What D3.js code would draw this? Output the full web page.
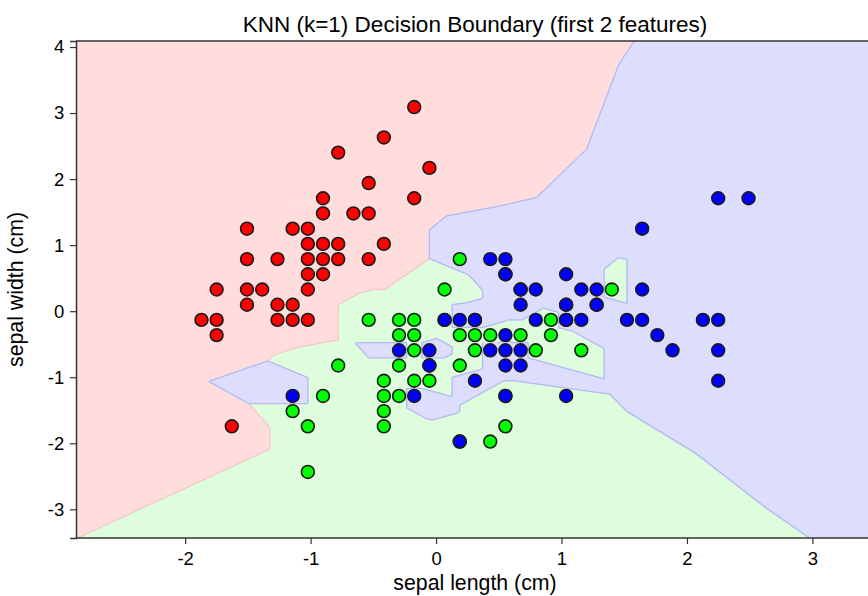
<!DOCTYPE html>
<html>
<head>
<meta charset="utf-8">
<script src="https://cdn.jsdelivr.net/npm/d3@7"></script>
<style>
  html, body { margin: 0; padding: 0; background: #ffffff; }
  svg text { font-family: "Liberation Sans", Arial, sans-serif; fill: #000; }
</style>
</head>
<body>
<svg id="chart" width="868" height="596"></svg>
<script>
// Iris, first two features (standardized sepal length, sepal width).
// "Fit" points train the 1-nearest-neighbour classifier, "Held" points are only plotted.
const classNames = ["setosa", "versicolor", "virginica"];

const setosaFit = [
  [-0.901, 1.019], [-1.143, -0.132], [-1.386, 0.328], [-1.507, 0.098], [-1.022, 1.249],
  [-0.537, 1.940], [-1.507, 0.789], [-1.022, 0.789], [-1.749, -0.362], [-1.143, 0.098],
  [-1.264, 0.789], [-1.264, -0.132], [-1.870, -0.132], [-0.053, 2.170],
  [-0.901, 1.710], [-0.537, 0.789], [-0.901, 1.480], [-1.507, 1.249], [-0.901, 0.559],
  [-1.022, -0.132], [-0.780, 1.019], [-0.780, 0.789], [-1.264, 0.098], [-0.780, 2.401],
  [-0.416, 2.631], [-1.022, 0.328], [-1.143, 1.249], [-1.749, -0.132], [-0.901, 0.789],
  [-1.022, 1.019], [-1.628, -1.743], [-1.749, 0.328], [-1.507, 0.328], [-0.659, 1.480],
  [-1.022, 0.559]
];
const setosaHeld = [
  [-0.537, 1.480], [-0.174, 3.091], [-0.174, 1.710], [-0.416, 1.019]
];

const versicolorFit = [
  [1.401, 0.328], [-0.416, -1.743], [0.795, -0.592], [-0.174, -0.592], [-1.143, -1.513],
  [0.916, -0.362], [-0.780, -0.822], [-1.022, -2.434], [0.068, -0.132], [0.189, -1.974],
  [0.310, -0.362], [-0.295, -0.362], [-0.295, -0.132], [-0.053, -0.822], [0.432, -1.974],
  [-0.295, -1.283], [0.068, 0.328], [0.310, -0.592], [0.553, -1.283], [0.674, -0.362],
  [0.916, -0.132], [0.189, -0.362], [-0.174, -1.053], [-0.416, -1.513],
  [0.189, -0.822], [-0.537, -0.132], [0.553, -1.743], [-0.416, -1.283], [-0.416, -1.053],
  [-0.053, -1.053], [-1.022, -1.743], [-0.295, -0.822], [-0.174, -0.132], [-0.174, -0.362],
  [0.432, -0.362], [-0.901, -1.283]
];
const versicolorHeld = [
  [0.674, 0.328], [1.280, 0.098], [0.553, 0.559], [1.037, 0.098], [1.037, -0.132],
  [0.189, 0.789], [0.310, -0.132], [1.158, -0.592]
];

const virginicaFit = [
  [0.553, 0.559], [1.522, -0.132], [2.127, -0.132],
  [-1.143, -1.283], [1.764, -0.362], [1.643, 1.249], [0.795, 0.328], [0.674, -0.822],
  [1.158, -0.132], [-0.174, -1.283], [-0.053, -0.592], [0.674, 0.328], [2.249, 1.710],
  [1.280, 0.328], [-0.295, -0.592], [2.249, -0.592], [0.553, -0.822],
  [1.037, 0.559], [1.643, 0.328], [0.432, -0.592], [0.310, -0.132], [0.674, -0.592],
  [1.643, -0.132], [1.885, -0.592], [2.491, 1.710], [0.553, -0.592], [0.310, -1.053],
  [2.249, -0.132], [0.553, 0.789], [0.674, 0.098], [0.189, -0.132], [1.280, 0.098],
  [1.037, 0.098], [1.158, 0.328], [1.037, -0.132], [0.432, 0.789]
];
const virginicaHeld = [
  [-0.053, -0.822], [0.553, -0.362], [0.795, -0.132], [1.037, -1.283], [2.249, -1.053],
  [0.189, -1.974], [0.553, -1.283], [0.068, -0.132]
];

const xTicks = [-2, -1, 0, 1, 2, 3];
const yTicks = [-3, -2, -1, 0, 1, 2, 3, 4];
const xDomain = [-2.870, 3.491];
const yDomain = [-3.434, 4.091];

const regionColors = ["#ffdddd", "#ddfddd", "#ddddfe"];
const pointColors = ["#ff0000", "#00ff00", "#0000ff"];

const svg = d3.select("#chart");
const margin = { left: 76, right: -6, top: 41, bottom: 58 };
const W = 868, H = 596;
const x = d3.scaleLinear().domain(xDomain).range([margin.left, W - margin.right]);
const y = d3.scaleLinear().domain(yDomain).range([H - margin.bottom, margin.top]);

// Training table for the classifier
const fitSets = [setosaFit, versicolorFit, virginicaFit];
const train = [];
fitSets.forEach((arr, c) => arr.forEach(p => train.push({ p, c })));

// 1-NN decision regions are the Voronoi cells of the training points
const delaunay = d3.Delaunay.from(train, d => d.p[0], d => d.p[1]);
const voronoi = delaunay.voronoi([xDomain[0], yDomain[0], xDomain[1], yDomain[1]]);

const clipId = "plotClip";
svg.append("defs").append("clipPath").attr("id", clipId)
  .append("rect")
  .attr("x", x(xDomain[0])).attr("y", y(yDomain[1]))
  .attr("width", x(xDomain[1]) - x(xDomain[0]))
  .attr("height", y(yDomain[0]) - y(yDomain[1]));

const gRegions = svg.append("g").attr("clip-path", `url(#${clipId})`);
const toPath = d3.line().x(d => x(d[0])).y(d => y(d[1]));

train.forEach((t, i) => {
  const poly = voronoi.cellPolygon(i);
  if (!poly) return;
  gRegions.append("path")
    .attr("d", toPath(poly) + "Z")
    .attr("fill", regionColors[t.c])
    .attr("stroke", regionColors[t.c])
    .attr("stroke-width", 1);
});

// Edges shared by cells of different classes
const edgeColor = (a, b) => (a === 2 || b === 2) ? "#b4baf2" : "#f6c6c6";
const near = (u, v) => Math.abs(u[0] - v[0]) < 1e-9 && Math.abs(u[1] - v[1]) < 1e-9;
train.forEach((t, i) => {
  const pi = voronoi.cellPolygon(i);
  if (!pi) return;
  for (const j of voronoi.neighbors(i)) {
    if (j <= i || train[j].c === t.c) continue;
    const pj = voronoi.cellPolygon(j);
    if (!pj) continue;
    const shared = [];
    pi.slice(0, -1).forEach(v => {
      if (pj.some(w => near(v, w)) && !shared.some(s => near(s, v))) shared.push(v);
    });
    if (shared.length >= 2) {
      gRegions.append("path")
        .attr("d", toPath(shared.slice(0, 2)))
        .attr("fill", "none")
        .attr("stroke", edgeColor(t.c, train[j].c))
        .attr("stroke-width", 1.3);
    }
  }
});

// Top spine (the right one lies beyond the canvas)
svg.append("line").attr("x1", x(xDomain[0])).attr("x2", W + 10)
  .attr("y1", y(yDomain[1])).attr("y2", y(yDomain[1]))
  .attr("stroke", "#333").attr("stroke-width", 1.5);

// Axes
const fmt = d => String(d);
const xAxis = d3.axisBottom(x).tickValues(xTicks).tickFormat(fmt).tickSizeOuter(0).tickSize(6);
const yAxis = d3.axisLeft(y).tickValues(yTicks).tickFormat(fmt).tickSizeOuter(0).tickSize(6);

const gx = svg.append("g").attr("transform", `translate(0,${y(yDomain[0])})`).call(xAxis);
const gy = svg.append("g").attr("transform", `translate(${x(xDomain[0])},0)`).call(yAxis);
[gx, gy].forEach(g => {
  g.selectAll(".domain").attr("stroke", "#333").attr("stroke-width", 1.5);
  g.selectAll(".tick line").attr("stroke", "#333").attr("stroke-width", 1.2);
  g.selectAll(".tick text").attr("font-size", 18.5).attr("fill", "#000")
    .attr("font-family", "Liberation Sans, Arial, sans-serif");
});
gx.select(".domain").attr("d", `M${x(xDomain[0])},0H${W + 10}`);
gx.selectAll(".tick text").attr("dy", "0.95em");
gy.selectAll(".tick text").attr("dx", "-0.15em");

// Scatter of all samples
const gPts = svg.append("g");
const allSets = [
  setosaFit.concat(setosaHeld),
  versicolorFit.concat(versicolorHeld),
  virginicaFit.concat(virginicaHeld)
];
allSets.forEach((arr, c) => {
  gPts.selectAll(null).data(arr).enter().append("circle")
    .attr("cx", d => x(d[0])).attr("cy", d => y(d[1]))
    .attr("r", 6.4)
    .attr("fill", pointColors[c])
    .attr("stroke", "#1a1a1a").attr("stroke-width", 1.6);
});

// Text
const cx = (x(xDomain[0]) + x(xDomain[1])) / 2;
svg.append("text").attr("x", cx).attr("y", 32)
  .attr("text-anchor", "middle").attr("font-size", 22.5)
  .text("KNN (k=1) Decision Boundary (first 2 features)");
svg.append("text").attr("x", cx).attr("y", 590)
  .attr("text-anchor", "middle").attr("font-size", 21.3)
  .text("sepal length (cm)");
svg.append("text").attr("transform", `translate(23,${(y(yDomain[0]) + y(yDomain[1])) / 2}) rotate(-90)`)
  .attr("text-anchor", "middle").attr("font-size", 21.3)
  .text("sepal width (cm)");
</script>
</body>
</html>
